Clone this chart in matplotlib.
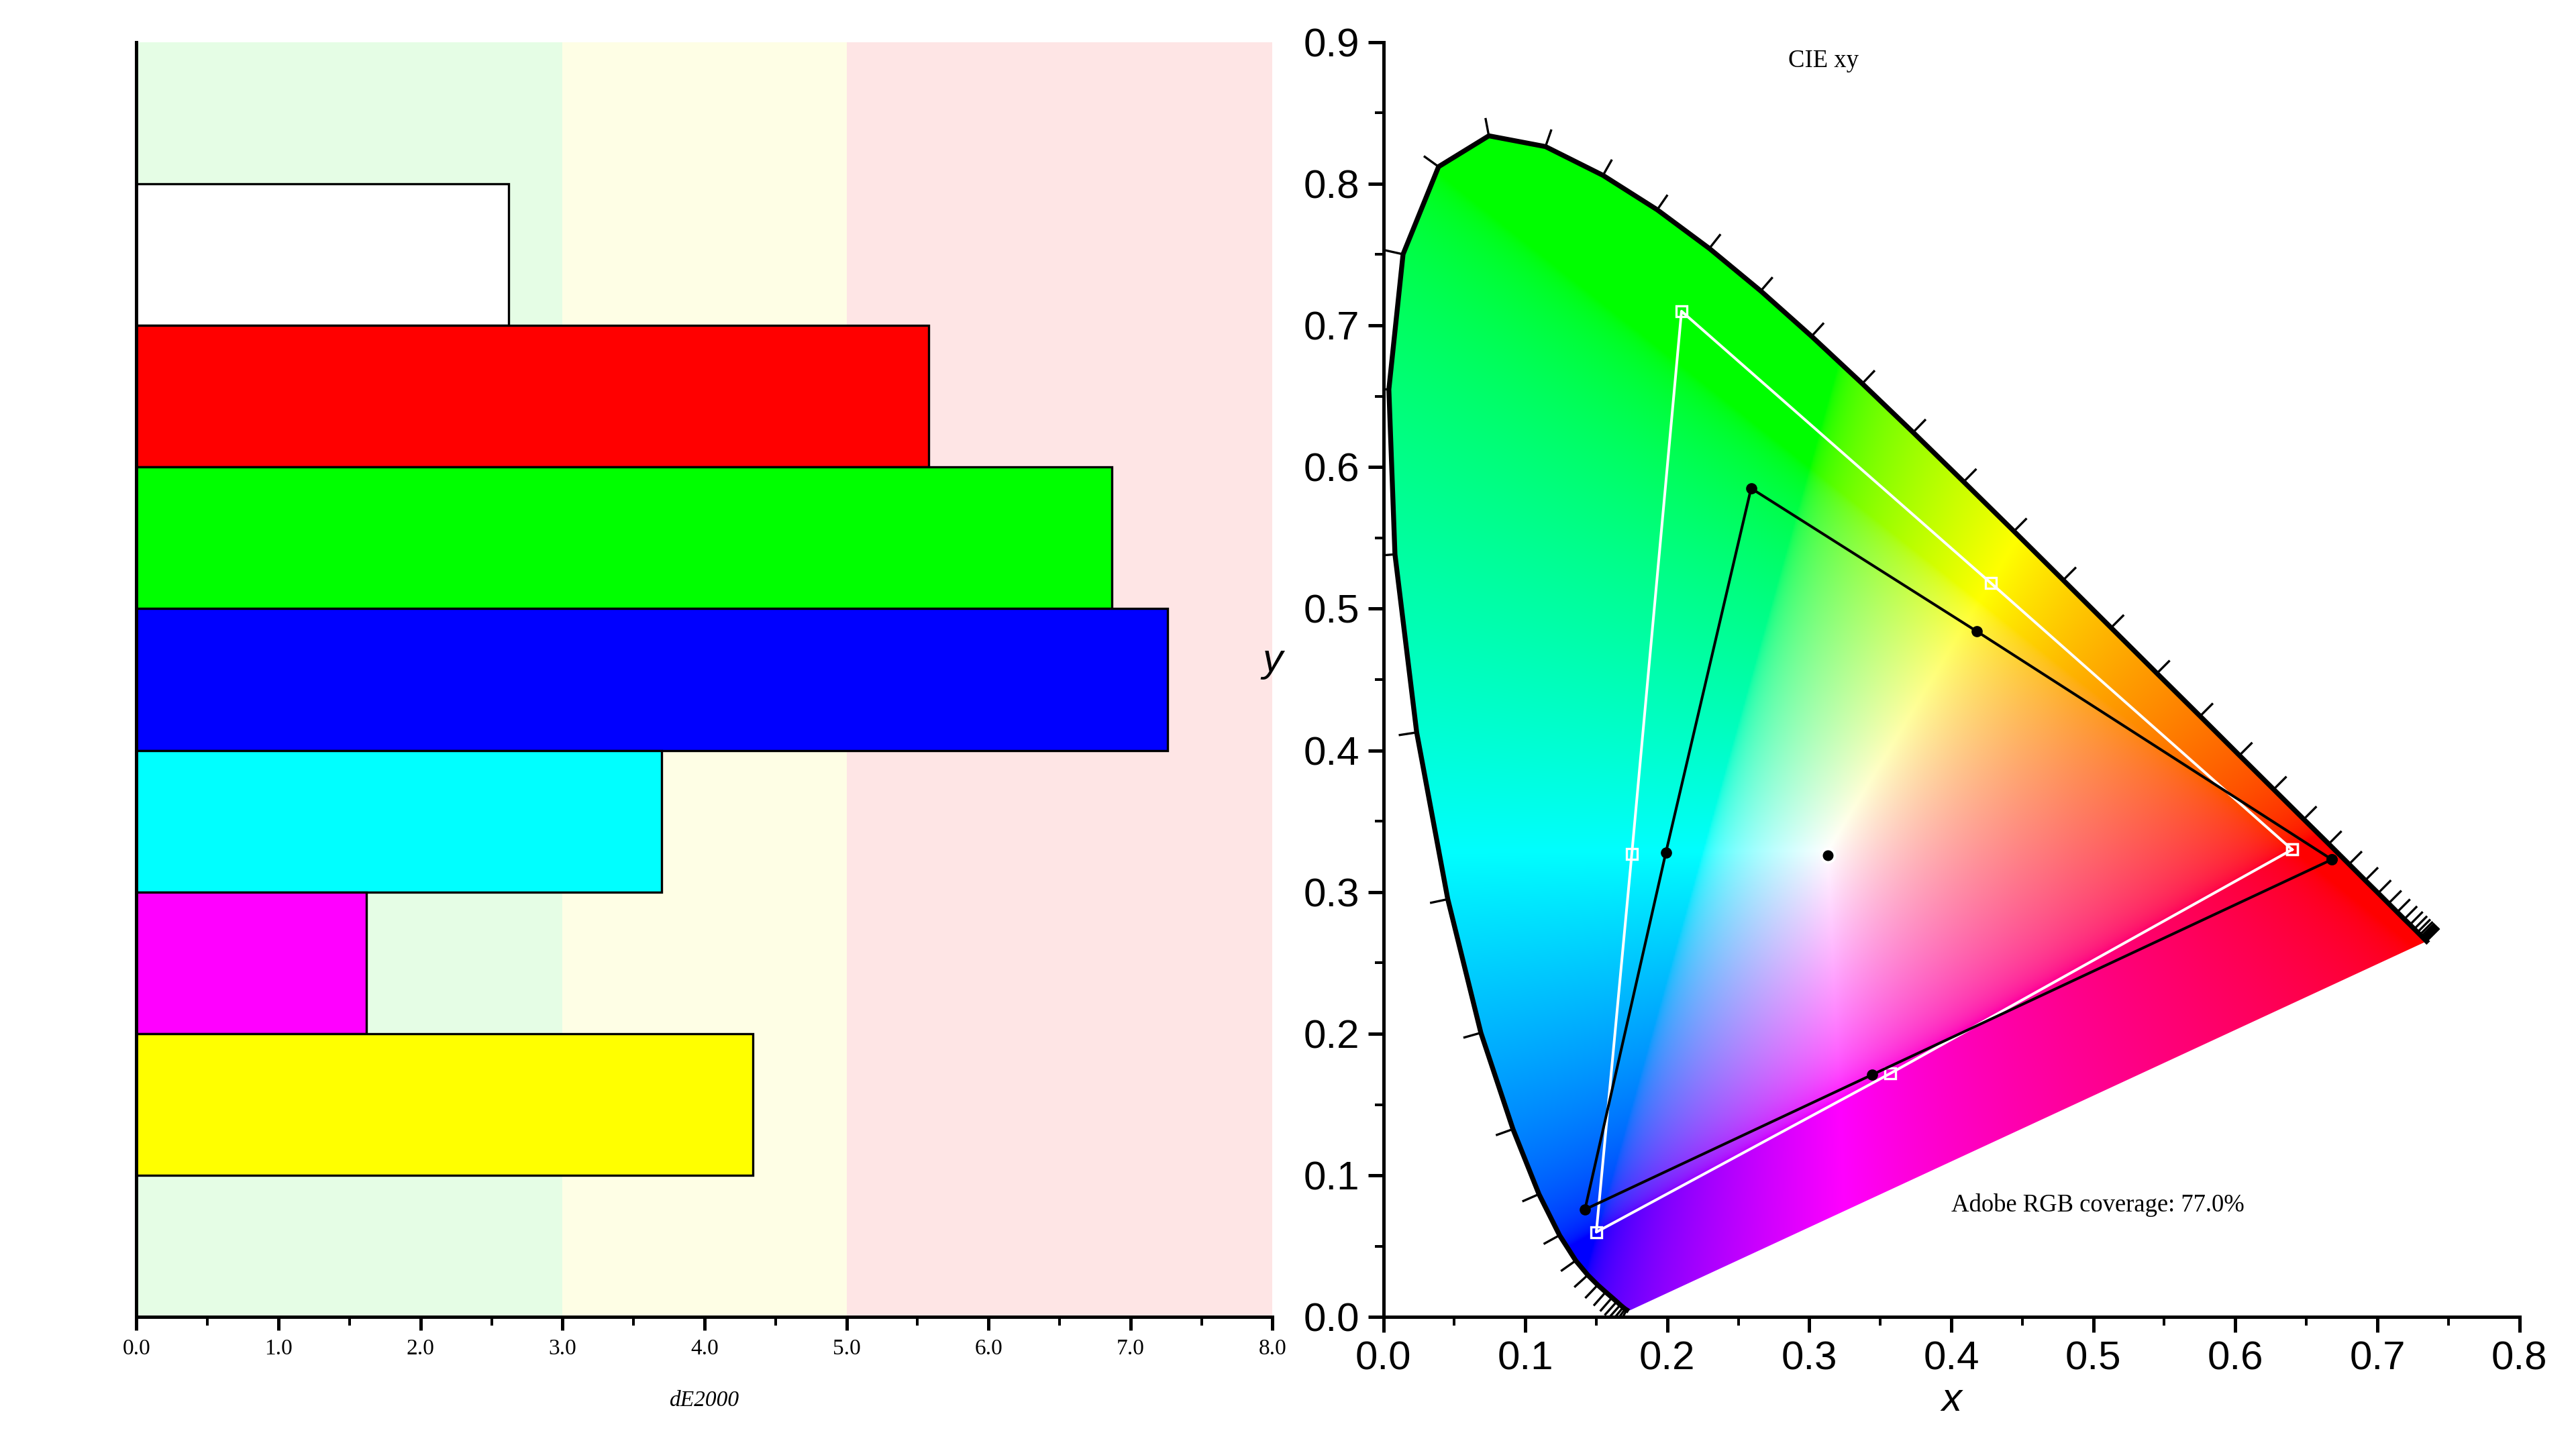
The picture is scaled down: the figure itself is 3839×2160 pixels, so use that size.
import numpy as np
import matplotlib
matplotlib.use("Agg")
import matplotlib.pyplot as plt
from matplotlib.patches import Polygon
from matplotlib.ticker import MultipleLocator

# ---- data ----
bar_names = ["White", "Red", "Green", "Blue", "Cyan", "Magenta", "Yellow"]
bar_values = [2.62, 5.58, 6.87, 7.26, 3.70, 1.62, 4.34]
bar_colors = ["#ffffff", "#ff0000", "#00ff00", "#0000ff", "#00ffff", "#ff00ff", "#ffff00"]
zone_edges = [0, 3, 5, 8]
zone_colors = ["#e5fde5", "#fefee5", "#fee5e5"]

locus_x = [0.1741,0.1740,0.1738,0.1736,0.1733,0.1730,0.1726,0.1721,0.1714,0.1703,0.1689,0.1669,0.1644,0.1611,0.1566,0.1510,0.1440,0.1355,0.1241,0.1096,0.0913,0.0687,0.0454,0.0235,0.0082,0.0039,0.0139,0.0389,0.0743,0.1142,0.1547,0.1929,0.2296,0.2658,0.3016,0.3373,0.3731,0.4087,0.4441,0.4788,0.5125,0.5448,0.5752,0.6029,0.6270,0.6482,0.6658,0.6801,0.6915,0.7006,0.7079,0.7140,0.7190,0.7230,0.7260,0.7283,0.7300,0.7311,0.7320,0.7327,0.7334,0.7340,0.7344,0.7346,0.7347]
locus_y = [0.0050,0.0050,0.0049,0.0049,0.0048,0.0048,0.0048,0.0048,0.0051,0.0058,0.0069,0.0086,0.0109,0.0138,0.0177,0.0227,0.0297,0.0399,0.0578,0.0868,0.1327,0.2007,0.2950,0.4127,0.5384,0.6548,0.7502,0.8120,0.8338,0.8262,0.8059,0.7816,0.7543,0.7243,0.6923,0.6589,0.6245,0.5896,0.5547,0.5202,0.4866,0.4544,0.4242,0.3965,0.3725,0.3514,0.3340,0.3197,0.3083,0.2993,0.2920,0.2859,0.2809,0.2770,0.2740,0.2717,0.2700,0.2689,0.2680,0.2673,0.2666,0.2660,0.2656,0.2654,0.2653]

ref_x = [0.640, 0.428, 0.210, 0.175, 0.150, 0.357, 0.640]
ref_y = [0.330, 0.518, 0.710, 0.327, 0.060, 0.172, 0.330]
meas_x = [0.668, 0.418, 0.259, 0.199, 0.142, 0.344, 0.668]
meas_y = [0.323, 0.484, 0.585, 0.328, 0.076, 0.171, 0.323]
white_pt = (0.313, 0.326)

fig = plt.figure(figsize=(3839/240, 2160/240), dpi=240)

# ---- left: dE bars ----
ax = fig.add_axes([0.053, 0.091, 0.441, 0.880])
for i in range(3):
    ax.axvspan(zone_edges[i], zone_edges[i+1], color=zone_colors[i], zorder=0, lw=0)
ypos = np.arange(len(bar_values), 0, -1) + 0.5
ax.barh(ypos, bar_values, height=1.0, color=bar_colors, edgecolor="black", lw=1.0, zorder=2)
ax.set_xlim(0, 8); ax.set_ylim(0, 9)
ax.set_yticks([])
for s in ["top", "right"]:
    ax.spines[s].set_visible(False)
ax.spines["left"].set_linewidth(1.5); ax.spines["bottom"].set_linewidth(1.5)
ax.xaxis.set_major_locator(MultipleLocator(1)); ax.xaxis.set_minor_locator(MultipleLocator(0.5))
ax.set_xticks(np.arange(0, 8.1, 1))
ax.set_xticklabels([f"{v:.1f}" for v in np.arange(0, 8.1, 1)], fontfamily="Liberation Serif", fontsize=10)
ax.tick_params(axis="x", which="major", direction="out", length=6, width=1.5)
ax.tick_params(axis="x", which="minor", direction="out", length=4, width=1.2)
ax.set_xlabel("dE2000", fontfamily="Liberation Serif", style="italic", fontsize=10, labelpad=14)

# ---- right: CIE xy ----
bx = fig.add_axes([0.537, 0.091, 0.441, 0.880])
bx.set_xlim(0, 0.8); bx.set_ylim(0, 0.9)
n = 700
gx, gy = np.meshgrid(np.linspace(0.001, 0.8, n), np.linspace(0.001, 0.9, n))
X = gx / gy; Y = np.ones_like(gx); Z = (1 - gx - gy) / gy
R = 3.2406*X - 1.5372*Y - 0.4986*Z
G = -0.9689*X + 1.8758*Y + 0.0415*Z
B = 0.0557*X - 0.2040*Y + 1.0570*Z
rgb = np.clip(np.dstack([R, G, B]), 0, None)
rgb = rgb / np.maximum(rgb.max(axis=2, keepdims=True), 1e-9)
rgb = np.where(rgb <= 0.0031308, 12.92*rgb, 1.055*rgb**(1/2.4) - 0.055)
im = bx.imshow(np.clip(rgb, 0, 1), extent=[0.001, 0.8, 0.001, 0.9], origin="lower", aspect="auto", zorder=1)
poly = Polygon(np.column_stack([locus_x, locus_y]), closed=True, transform=bx.transData)
im.set_clip_path(poly)
bx.plot(locus_x[8:], locus_y[8:], color="black", lw=2.2, zorder=3)
lx = np.array(locus_x); ly = np.array(locus_y)
for i in range(8, len(lx) - 1):
    dx = lx[i+1] - lx[i-1]; dy = ly[i+1] - ly[i-1]
    L = np.hypot(dx, dy)
    if L < 1e-6:
        continue
    nx, ny = dy / L, -dx / L
    if (lx[i] - 0.33) * nx + (ly[i] - 0.33) * ny < 0:
        nx, ny = -nx, -ny
    bx.plot([lx[i], lx[i] + 0.012*nx], [ly[i], ly[i] + 0.012*ny], color="black", lw=1.0, zorder=3)
bx.plot(ref_x, ref_y, color="white", lw=1.2, marker="s", ms=5, mfc="none", mec="white", zorder=4)
bx.plot(meas_x, meas_y, color="black", lw=1.2, marker="o", ms=4, zorder=5)
bx.plot(*white_pt, marker="o", color="black", mec="white", mew=1.2, ms=6, zorder=6)
for s in ["top", "right"]:
    bx.spines[s].set_visible(False)
bx.spines["left"].set_linewidth(1.5); bx.spines["bottom"].set_linewidth(1.5)
bx.xaxis.set_minor_locator(MultipleLocator(0.05)); bx.yaxis.set_minor_locator(MultipleLocator(0.05))
bx.tick_params(which="major", direction="out", length=7, width=1.5)
bx.tick_params(which="minor", direction="out", length=4, width=1.2)
bx.set_xticks(np.arange(0, 0.81, 0.1))
bx.set_xticklabels([f"{v:.1f}" for v in np.arange(0, 0.81, 0.1)], fontfamily="Liberation Sans", fontsize=18)
bx.set_yticks(np.arange(0, 0.91, 0.1))
bx.set_yticklabels([f"{v:.1f}" for v in np.arange(0, 0.91, 0.1)], fontfamily="Liberation Sans", fontsize=18)
bx.set_xlabel("x", fontfamily="Liberation Sans", style="italic", fontsize=18, labelpad=2)
bx.set_ylabel("y", fontfamily="Liberation Sans", style="italic", fontsize=18, rotation=0, labelpad=14)
bx.text(0.31, 0.895, "CIE xy", fontfamily="Liberation Serif", fontsize=11, ha="center", va="top")
bx.text(0.40, 0.079, "Adobe RGB coverage: 77.0%", fontfamily="Liberation Serif", fontsize=11, ha="left", va="center")

fig.savefig("out.png", dpi=240)
